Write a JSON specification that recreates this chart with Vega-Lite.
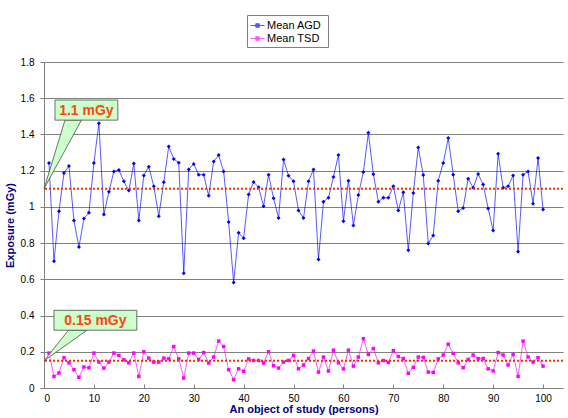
{
  "$schema": "https://vega.github.io/schema/vega-lite/v6.json",
  "width": 519,
  "height": 326,
  "autosize": {"type": "none"},
  "padding": {"left": 44, "top": 62, "right": 5, "bottom": 30},
  "background": "white",
  "config": {
    "view": {"stroke": null},
    "font": "Liberation Sans",
    "axis": {"labelFont": "Liberation Sans", "titleFont": "Liberation Sans", "labelColor": "#000000", "labelFontSize": 10, "titleColor": "#000080", "titleFontSize": 11, "titleFontWeight": "bold", "domainColor": "#808080", "tickColor": "#808080"}
  },
  "layer": [
    {
      "data": {"values": [
        {"n":1,"AGD":1.242,"TSD":0.193},{"n":2,"AGD":0.70,"TSD":0.064},{"n":3,"AGD":0.976,"TSD":0.083},{"n":4,"AGD":1.187,"TSD":0.167},{"n":5,"AGD":1.226,"TSD":0.139},
        {"n":6,"AGD":0.925,"TSD":0.101},{"n":7,"AGD":0.778,"TSD":0.059},{"n":8,"AGD":0.936,"TSD":0.116},{"n":9,"AGD":0.967,"TSD":0.112},{"n":10,"AGD":1.242,"TSD":0.193},
        {"n":11,"AGD":1.462,"TSD":0.143},{"n":12,"AGD":0.958,"TSD":0.11},{"n":13,"AGD":1.083,"TSD":0.143},{"n":14,"AGD":1.196,"TSD":0.193},{"n":15,"AGD":1.204,"TSD":0.18},
        {"n":16,"AGD":1.141,"TSD":0.156},{"n":17,"AGD":1.09,"TSD":0.139},{"n":18,"AGD":1.239,"TSD":0.193},{"n":19,"AGD":0.925,"TSD":0.064},{"n":20,"AGD":1.174,"TSD":0.2},
        {"n":21,"AGD":1.222,"TSD":0.165},{"n":22,"AGD":1.114,"TSD":0.143},{"n":23,"AGD":0.949,"TSD":0.143},{"n":24,"AGD":1.136,"TSD":0.165},{"n":25,"AGD":1.334,"TSD":0.161},
        {"n":26,"AGD":1.264,"TSD":0.229},{"n":27,"AGD":1.244,"TSD":0.161},{"n":28,"AGD":0.633,"TSD":0.055},{"n":29,"AGD":1.207,"TSD":0.193},{"n":30,"AGD":1.237,"TSD":0.193},
        {"n":31,"AGD":1.178,"TSD":0.158},{"n":32,"AGD":1.178,"TSD":0.196},{"n":33,"AGD":1.061,"TSD":0.138},{"n":34,"AGD":1.25,"TSD":0.171},{"n":35,"AGD":1.286,"TSD":0.259},
        {"n":36,"AGD":1.196,"TSD":0.229},{"n":37,"AGD":0.916,"TSD":0.101},{"n":38,"AGD":0.582,"TSD":0.046},{"n":39,"AGD":0.857,"TSD":0.106},{"n":40,"AGD":0.827,"TSD":0.092},
        {"n":41,"AGD":1.068,"TSD":0.161},{"n":42,"AGD":1.138,"TSD":0.152},{"n":43,"AGD":1.108,"TSD":0.152},{"n":44,"AGD":1.004,"TSD":0.138},{"n":45,"AGD":1.178,"TSD":0.2},
        {"n":46,"AGD":1.048,"TSD":0.123},{"n":47,"AGD":0.939,"TSD":0.11},{"n":48,"AGD":1.261,"TSD":0.143},{"n":49,"AGD":1.172,"TSD":0.152},{"n":50,"AGD":1.141,"TSD":0.18},
        {"n":51,"AGD":0.98,"TSD":0.106},{"n":52,"AGD":0.938,"TSD":0.127},{"n":53,"AGD":1.141,"TSD":0.163},{"n":54,"AGD":1.207,"TSD":0.204},{"n":55,"AGD":0.71,"TSD":0.088},
        {"n":56,"AGD":1.028,"TSD":0.171},{"n":57,"AGD":1.05,"TSD":0.094},{"n":58,"AGD":1.165,"TSD":0.209},{"n":59,"AGD":1.286,"TSD":0.139},{"n":60,"AGD":0.921,"TSD":0.106},
        {"n":61,"AGD":1.145,"TSD":0.209},{"n":62,"AGD":0.897,"TSD":0.121},{"n":63,"AGD":1.066,"TSD":0.171},{"n":64,"AGD":1.193,"TSD":0.272},{"n":65,"AGD":1.409,"TSD":0.185},
        {"n":66,"AGD":1.18,"TSD":0.218},{"n":67,"AGD":1.029,"TSD":0.139},{"n":68,"AGD":1.05,"TSD":0.152},{"n":69,"AGD":1.05,"TSD":0.141},{"n":70,"AGD":1.114,"TSD":0.206},
        {"n":71,"AGD":0.98,"TSD":0.174},{"n":72,"AGD":1.081,"TSD":0.163},{"n":73,"AGD":0.76,"TSD":0.081},{"n":74,"AGD":1.077,"TSD":0.114},{"n":75,"AGD":1.328,"TSD":0.171},
        {"n":76,"AGD":1.176,"TSD":0.169},{"n":77,"AGD":0.798,"TSD":0.088},{"n":78,"AGD":0.842,"TSD":0.086},{"n":79,"AGD":1.145,"TSD":0.161},{"n":80,"AGD":1.242,"TSD":0.182},
        {"n":81,"AGD":1.38,"TSD":0.242},{"n":82,"AGD":1.178,"TSD":0.191},{"n":83,"AGD":0.976,"TSD":0.139},{"n":84,"AGD":0.994,"TSD":0.112},{"n":85,"AGD":1.156,"TSD":0.158},
        {"n":86,"AGD":1.105,"TSD":0.182},{"n":87,"AGD":1.182,"TSD":0.163},{"n":88,"AGD":1.123,"TSD":0.163},{"n":89,"AGD":0.991,"TSD":0.106},{"n":90,"AGD":0.87,"TSD":0.094},
        {"n":91,"AGD":1.294,"TSD":0.196},{"n":92,"AGD":1.105,"TSD":0.182},{"n":93,"AGD":1.114,"TSD":0.127},{"n":94,"AGD":1.174,"TSD":0.185},{"n":95,"AGD":0.752,"TSD":0.064},
        {"n":96,"AGD":1.178,"TSD":0.259},{"n":97,"AGD":1.196,"TSD":0.171},{"n":98,"AGD":1.018,"TSD":0.143},{"n":99,"AGD":1.27,"TSD":0.167},{"n":100,"AGD":0.985,"TSD":0.121}
      ]},
      "transform": [{"fold": ["AGD", "TSD"], "as": ["series", "v"]}],
      "encoding": {
        "x": {"field": "n", "type": "quantitative", "scale": {"domain": [0, 104], "nice": false, "zero": false},
              "axis": {"title": "An object of study (persons)", "values": [0,10,20,30,40,50,60,70,80,90,100], "tickCount": 30, "grid": false, "tickSize": -4, "labelPadding": 9, "titlePadding": 0}},
        "y": {"field": "v", "type": "quantitative", "scale": {"domain": [0, 1.8], "nice": false},
              "axis": {"title": "Exposure (mGy)", "values": [0,0.2,0.4,0.6,0.8,1,1.2,1.4,1.6,1.8], "tickCount": 30, "labelOverlap": false, "format": ".1~f", "grid": true, "gridColor": "#808080", "gridOpacity": 1, "tickSize": 4, "labelPadding": 6, "titlePadding": 5}},
        "color": {"field": "series", "type": "nominal", "scale": {"domain": ["AGD", "TSD"], "range": ["#0000ff", "#ff00ff"]}}
      },
      "layer": [
        {
          "mark": {"type": "line", "strokeWidth": 1, "opacity": 0.65},
          "encoding": {
            "color": {"field": "series", "type": "nominal", "scale": {"domain": ["AGD", "TSD"], "range": ["#0000ff", "#ff00ff"]},
              "legend": {"orient": "none", "legendX": 203, "legendY": -47, "title": null, "labelExpr": "'Mean  ' + datum.label",
                "labelFontSize": 11, "labelFont": "Liberation Sans", "labelColor": "#000000", "labelOffset": 2,
                "strokeColor": "#808080", "fillColor": "#ffffff", "padding": 3, "rowPadding": -3, "symbolSize": 196, "symbolStrokeWidth": 1,
                "symbolType": "M-1,0H1M-0.25,-0.25H0.25V0.25H-0.25Z",
                "encode": {"symbols": {"update": {
                  "fill": {"signal": "datum.value === 'AGD' ? '#0000ff' : '#ff00ff'"},
                  "opacity": {"value": 1}
                }}}}}
          }
        },
        {
          "transform": [{"filter": "datum.series === 'AGD'"}],
          "mark": {"type": "point", "filled": true, "opacity": 1, "size": 16, "shape": "diamond"},
          "encoding": {
            "color": {"field": "series", "type": "nominal", "scale": {"domain": ["AGD", "TSD"], "range": ["#0000ff", "#ff00ff"]}, "legend": null}
          }
        },
        {
          "transform": [{"filter": "datum.series === 'TSD'"}],
          "mark": {"type": "square", "filled": true, "opacity": 1, "size": 12},
          "encoding": {
            "color": {"field": "series", "type": "nominal", "scale": {"domain": ["AGD", "TSD"], "range": ["#0000ff", "#ff00ff"]}, "legend": null}
          }
        }
      ]
    },
    {
      "data": {"values": [{"v": 1.1}, {"v": 0.15}]},
      "mark": {"type": "rule", "color": "#ff2a00", "strokeWidth": 2, "strokeDash": [2, 2]},
      "encoding": {"y": {"field": "v", "type": "quantitative", "scale": {"domain": [0, 1.8], "nice": false},
              "axis": {"title": "Exposure (mGy)", "values": [0,0.2,0.4,0.6,0.8,1,1.2,1.4,1.6,1.8], "tickCount": 30, "labelOverlap": false, "format": ".1~f", "grid": true, "gridColor": "#808080", "gridOpacity": 1, "tickSize": 4, "labelPadding": 6, "titlePadding": 5}}}
    },
    {
      "data": {"values": [
        {"g": "a", "n": 0, "v": 1.1, "v2": 1.1},
        {"g": "a", "n": 4.2, "v": 1.479, "v2": 1.312},
        {"g": "a", "n": 7.5, "v": 1.479, "v2": 1.479},
        {"g": "b", "n": 0, "v": 0.15, "v2": 0.15},
        {"g": "b", "n": 4.9, "v": 0.319, "v2": 0.246},
        {"g": "b", "n": 8.6, "v": 0.319, "v2": 0.319}
      ]},
      "mark": {"type": "area", "fill": "#ccffcc", "stroke": "#4d4d4d", "strokeWidth": 0.8},
      "encoding": {
        "x": {"field": "n", "type": "quantitative", "scale": {"domain": [0, 104], "nice": false, "zero": false},
              "axis": {"title": "An object of study (persons)", "values": [0,10,20,30,40,50,60,70,80,90,100], "tickCount": 30, "grid": false, "tickSize": -4, "labelPadding": 9, "titlePadding": 0}},
        "y": {"field": "v", "type": "quantitative", "scale": {"domain": [0, 1.8], "nice": false},
              "axis": {"title": "Exposure (mGy)", "values": [0,0.2,0.4,0.6,0.8,1,1.2,1.4,1.6,1.8], "tickCount": 30, "labelOverlap": false, "format": ".1~f", "grid": true, "gridColor": "#808080", "gridOpacity": 1, "tickSize": 4, "labelPadding": 6, "titlePadding": 5}},
        "y2": {"field": "v2"},
        "detail": {"field": "g", "type": "nominal"}
      }
    },
    {
      "data": {"values": [
        {"n": 2.2, "n2": 14.8, "nc": 8.5, "v": 1.479, "v2": 1.59, "vc": 1.537, "label": "1.1 mGy"},
        {"n": 2.0, "n2": 18.6, "nc": 10.3, "v": 0.319, "v2": 0.429, "vc": 0.376, "label": "0.15 mGy"}
      ]},
      "layer": [
        {
          "mark": {"type": "rect", "fill": "#ccffcc", "stroke": "#4d4d4d", "strokeWidth": 0.8},
          "encoding": {
            "x": {"field": "n", "type": "quantitative", "scale": {"domain": [0, 104], "nice": false, "zero": false},
              "axis": {"title": "An object of study (persons)", "values": [0,10,20,30,40,50,60,70,80,90,100], "tickCount": 30, "grid": false, "tickSize": -4, "labelPadding": 9, "titlePadding": 0}},
            "x2": {"field": "n2"},
            "y": {"field": "v", "type": "quantitative", "scale": {"domain": [0, 1.8], "nice": false},
              "axis": {"title": "Exposure (mGy)", "values": [0,0.2,0.4,0.6,0.8,1,1.2,1.4,1.6,1.8], "tickCount": 30, "labelOverlap": false, "format": ".1~f", "grid": true, "gridColor": "#808080", "gridOpacity": 1, "tickSize": 4, "labelPadding": 6, "titlePadding": 5}},
            "y2": {"field": "v2"}
          }
        },
        {
          "mark": {"type": "text", "align": "center", "baseline": "middle", "dy": 1, "color": "#ff4410", "fontSize": 14, "fontWeight": "bold", "font": "Liberation Sans"},
          "encoding": {
            "x": {"field": "nc", "type": "quantitative"},
            "y": {"field": "vc", "type": "quantitative"},
            "text": {"field": "label"}
          }
        }
      ]
    }
  ]
}
